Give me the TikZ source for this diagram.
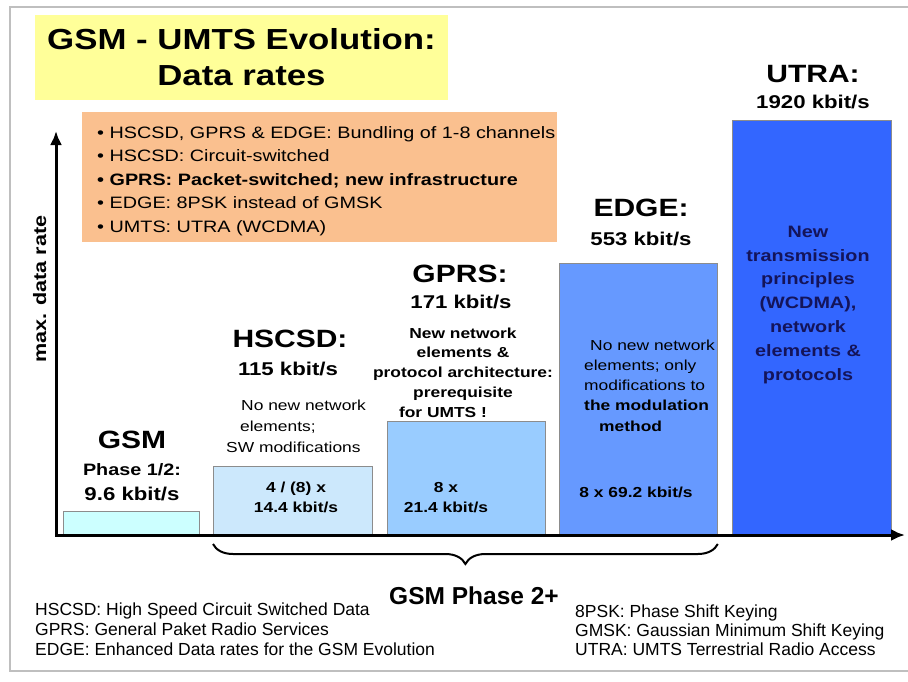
\documentclass[tikz,border=0pt]{standalone}
\usepackage{fontspec}
\setmainfont{Liberation Sans}
\newfontfamily\widefont[FakeStretch=1.2]{Liberation Sans}
\usepackage{tikz}
\usetikzlibrary{arrows,arrows.meta,decorations.pathreplacing}
\definecolor{titleyellow}{RGB}{255,255,153}
\definecolor{infoorange}{RGB}{250,192,143}
\definecolor{gsmfill}{RGB}{204,255,255}
\definecolor{hscsdfill}{RGB}{204,232,252}
\definecolor{gprsfill}{RGB}{153,204,255}
\definecolor{edgefill}{RGB}{102,153,255}
\definecolor{utrafill}{RGB}{51,102,255}
\definecolor{utratext}{RGB}{20,20,90}
\tikzset{
  bar/.style={draw=black!45,line width=0.8pt,fill=#1,anchor=south west,inner sep=0pt},
  bigname/.style={font=\widefont\bfseries\fontsize{25}{30}\selectfont,anchor=base,inner sep=0pt},
  rate/.style={font=\widefont\bfseries\fontsize{18.5}{22}\selectfont,anchor=base,inner sep=0pt},
  note/.style={font=\widefont\fontsize{14.5}{21}\selectfont,align=left,anchor=base west,inner sep=0pt},
  barnote/.style={font=\widefont\bfseries\fontsize{14.5}{20}\selectfont,align=center,anchor=base,inner sep=0pt},
  legend/.style={font=\fontsize{17.5}{20}\selectfont,align=left,anchor=base west,inner sep=0pt}
}
\begin{document}
\begin{tikzpicture}[x=1pt,y=-1pt]
\useasboundingbox (0,0) rectangle (908,681);
\draw[black!25,line width=1.5pt] (908,7) -- (10,7) -- (10,671) -- (908,671);

\node[fill=titleyellow,minimum width=413pt,minimum height=85pt,inner sep=0pt,align=center,
  font=\widefont\bfseries\fontsize{29}{36}\selectfont] (title) at (241.5,57.5) {GSM - UMTS Evolution:\\Data rates};

% multi-line nodes sit on the baseline of their last line
\node[fill=infoorange,minimum width=475pt,minimum height=130pt,inner sep=0pt] (info) at (319.5,177) {};
\node[font=\widefont\fontsize{16.5}{23.5}\selectfont,align=left,anchor=base west,inner sep=0pt] (infotext) at (97,232)
  {\textbullet\ HSCSD, GPRS \& EDGE: Bundling of 1-8 channels\\
   \textbullet\ HSCSD: Circuit-switched\\
   \textbf{\textbullet\ GPRS: Packet-switched; new infrastructure}\\
   \textbullet\ EDGE: 8PSK instead of GMSK\\
   \textbullet\ UMTS: UTRA (WCDMA)};

\node[bar=gsmfill,minimum width=136pt,minimum height=23pt] (gsm) at (63,535) {};
\node[bar=hscsdfill,minimum width=159pt,minimum height=68pt] (hscsd) at (213,535) {};
\node[bar=gprsfill,minimum width=158pt,minimum height=113pt] (gprs) at (387,535) {};
\node[bar=edgefill,minimum width=158pt,minimum height=271pt] (edge) at (559,535) {};
\node[bar=utrafill,minimum width=159pt,minimum height=414pt] (utra) at (732,535) {};

\coordinate (origin) at (56,535);
\coordinate (ytip) at (56,131);
\coordinate (xtip) at (905,535);
\draw[line width=3pt,line join=miter,{Latex[length=14pt,width=12pt]}-{Latex[length=14pt,width=12pt]}] (ytip) -- (origin) -- (xtip);
\node[font=\widefont\bfseries\fontsize{18}{20}\selectfont,rotate=90,anchor=base,inner sep=0pt] (ylabel) at (46,289) {max. data rate};

\node[bigname] (gsmname) at (132,448) {GSM};
\node[font=\widefont\bfseries\fontsize{16.5}{20}\selectfont,anchor=base,inner sep=0pt] (gsmphase) at (132,475) {Phase 1/2:};
\node[rate] (gsmrate) at (132,500) {9.6 kbit/s};

\node[bigname] (hscsdname) at (290,347) {HSCSD:};
\node[rate] (hscsdrate) at (288,375) {115 kbit/s};
\node[note] (hscsdnote) at (226,452) {\hspace*{15pt}No new network\\\hspace*{14pt}elements;\\SW modifications};
\node[barnote] (hscsdbundle) at (296,512) {4 / (8) x\\14.4 kbit/s};

\node[bigname] (gprsname) at (460,282) {GPRS:};
\node[rate] (gprsrate) at (461,308) {171 kbit/s};
\node[barnote,font=\widefont\bfseries\fontsize{14.5}{19.75}\selectfont] (gprsnote) at (463,417)
  {New network\\elements \&\\protocol architecture:\\prerequisite\hspace*{24pt}\\for UMTS !\hspace*{40pt}};
\node[barnote] (gprsbundle) at (446,512) {8 x\\21.4 kbit/s};

\node[bigname] (edgename) at (641,216) {EDGE:};
\node[rate] (edgerate) at (641,245) {553 kbit/s};
\node[note,font=\widefont\fontsize{14.5}{20.2}\selectfont] (edgenote) at (584,431)
  {\hspace*{6pt}No new network\\elements; only\\modifications to\\\textbf{the modulation}\\\hspace*{15pt}\textbf{method}};
\node[barnote] (edgebundle) at (636,497) {8 x 69.2 kbit/s};

\node[bigname] (utraname) at (813,82) {UTRA:};
\node[rate] (utrarate) at (813,108) {1920 kbit/s};
\node[barnote,text=utratext,font=\widefont\bfseries\fontsize{16.5}{23.8}\selectfont] (utranote) at (808,380)
  {New\\transmission\\principles\\(WCDMA),\\network\\elements \&\\protocols};

\draw[line width=2pt,decorate,decoration={brace,amplitude=20pt}]
  ([yshift=-9pt]edge.south east) -- ([yshift=-9pt]hscsd.south west);
\node[font=\bfseries\fontsize{24.5}{28}\selectfont,anchor=base,inner sep=0pt] (phase2) at (474,604) {GSM Phase 2+};

\node[legend] (legleft) at (35,655) {HSCSD: High Speed Circuit Switched Data\\GPRS: General Paket Radio Services\\EDGE: Enhanced Data rates for the GSM Evolution};
\node[legend,font=\fontsize{17.5}{19}\selectfont] (legright) at (575,655) {8PSK: Phase Shift Keying\\GMSK: Gaussian Minimum Shift Keying\\UTRA: UMTS Terrestrial Radio Access};
\end{tikzpicture}
\end{document}
